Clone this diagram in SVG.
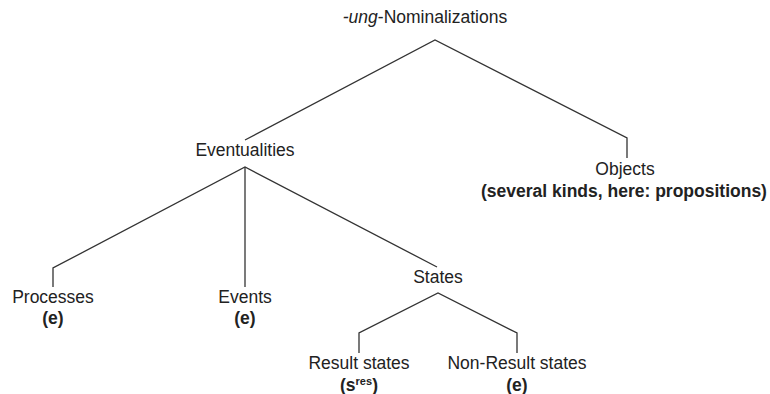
<svg xmlns="http://www.w3.org/2000/svg" width="770" height="394" viewBox="0 0 770 394">
<style>
text{font-family:"Liberation Sans",Arial,sans-serif;font-size:17.5px;fill:#222;text-anchor:middle}
.b{font-weight:bold}
#edges polyline{fill:none;stroke:#333;stroke-width:1.3}
</style>
<rect width="770" height="394" fill="#fff"/>
<g id="edges">
<polyline points="245,140 435,40 627,138 627,158"/>
<polyline points="53,287 53,268 245,167 437,267"/>
<polyline points="245,167 245,287"/>
<polyline points="359,353 359,333 438,293 517,333 517,353"/>
</g>
<g id="root"><text x="425" y="23"><tspan font-style="italic">-ung</tspan>-Nominalizations</text></g>
<g id="eventualities"><text x="245" y="156">Eventualities</text></g>
<g id="objects"><text x="625" y="175">Objects</text><text x="624" y="197" class="b">(several kinds, here: propositions)</text></g>
<g id="processes"><text x="53" y="303">Processes</text><text x="53" y="324" class="b">(e)</text></g>
<g id="events"><text x="245" y="303">Events</text><text x="245" y="324" class="b">(e)</text></g>
<g id="states"><text x="438" y="283">States</text></g>
<g id="result"><text x="359" y="369">Result states</text><text x="359" y="391" class="b">(s<tspan dy="-6" font-size="11">res</tspan><tspan dy="6">)</tspan></text></g>
<g id="nonresult"><text x="517" y="369">Non-Result states</text><text x="517" y="391" class="b">(e)</text></g>
</svg>
